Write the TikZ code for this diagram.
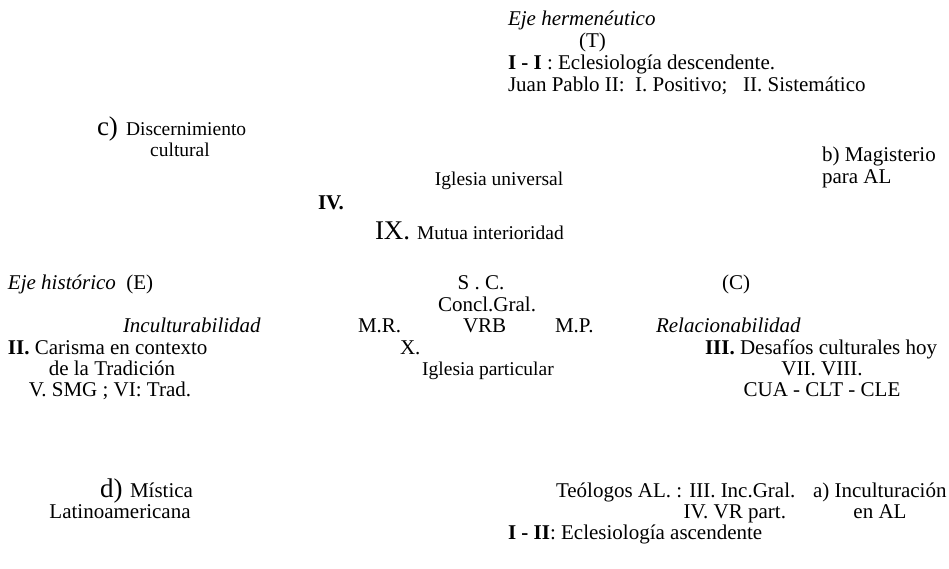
\documentclass[tikz,border=0pt]{standalone}
\usepackage{fontspec}
\setmainfont{Liberation Serif}
\begin{document}
\begin{tikzpicture}[x=1pt,y=-1pt,
  every node/.style={inner sep=0pt, outer sep=0pt, font=\fontsize{21}{22}\selectfont},
  lw/.style={anchor=base west},
  ctr/.style={anchor=base},
  small/.style={font=\fontsize{19.5}{20}\selectfont},
  big/.style={font=\fontsize{27}{28}\selectfont}]
\useasboundingbox (0,0) rectangle (949,569);
% top
\node[lw] (eh) at (508,26) {\itshape Eje hermenéutico};
\node[lw] (t) at (579,48) {(T)};
\node[lw] (ii) at (508,70) {\textbf{I - I} : Eclesiología descendente.};
\node[lw] (jp) at (508,92) {Juan Pablo II:\ \ I. Positivo;\ \ \ II. Sistemático};
% c)
\node[lw,big] (c) at (97,136) {c)};
\node[lw,small] (disc) at (126,136) {Discernimiento};
\node[ctr,small] (cult) at (180,157) {cultural};
% b)
\node[lw] (b) at (822,162) {b) Magisterio};
\node[lw] (bal) at (822,184) {para AL};
% centre
\node[ctr,small] (iu) at (499,186) {Iglesia universal};
\node[lw] (iv) at (318,210) {\textbf{IV.}};
\node[lw,big] (ix) at (375,240) {IX.};
\node[lw,small] (mi) at (417,240) {Mutua interioridad};
\node[lw] (eh2) at (8,289) {\itshape Eje histórico\normalfont\ \ (E)};
\node[ctr] (sc) at (481,289) {S . C.};
\node[lw] (cc) at (722,289) {(C)};
\node[ctr] (cg) at (487,311) {Concl.Gral.};
\node[lw] (inc) at (123,332) {\itshape Inculturabilidad};
\node[lw] (mr) at (358,332) {M.R.};
\node[lw] (vrb) at (463,332) {VRB};
\node[lw] (mp) at (555,332) {M.P.};
\node[lw] (rel) at (656,332) {\itshape Relacionabilidad};
\node[lw] (car) at (8,354) {\textbf{II.} Carisma en contexto};
\node[lw] (x) at (400,354) {X.};
\node[lw] (des) at (705,354) {\textbf{III.} Desafíos culturales hoy};
\node[ctr] (trad) at (112,375) {de la Tradición};
\node[ctr,small] (ip) at (488,375) {Iglesia particular};
\node[ctr] (vii) at (822,375) {VII. VIII.};
\node[ctr] (smg) at (110,396) {V. SMG ; VI: Trad.};
\node[ctr] (cua) at (822,396) {CUA - CLT - CLE};
% bottom
\node[lw,big] (d) at (100,497) {d)};
\node[lw] (mis) at (130,497) {Mística};
\node[ctr] (lat) at (120,518) {Latinoamericana};
\node[lw] (teo) at (556,497) {Teólogos AL. : III. Inc.Gral.};
\node[anchor=base east] (vr) at (786,518) {IV. VR part.};
\node[lw] (asc) at (508,539) {\textbf{I - II}: Eclesiología ascendente};
\node[lw] (a) at (813,497) {a) Inculturación};
\node[ctr] (al) at (880,518) {en AL};
\end{tikzpicture}
\end{document}
